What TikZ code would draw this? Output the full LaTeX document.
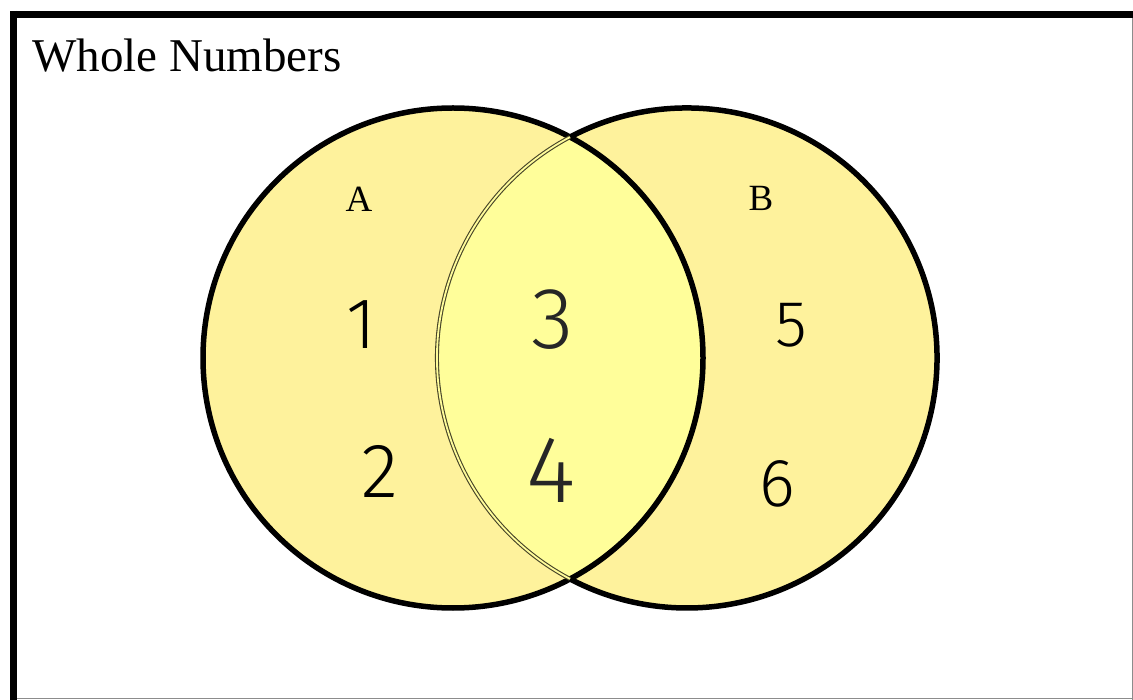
\documentclass[tikz,border=0pt]{standalone}
\usepackage{fontspec}
\setmainfont{Liberation Serif}
\newfontfamily\handfont{Fira Sans Light}
\definecolor{outeryellow}{RGB}{254,242,156}
\definecolor{inneryellow}{RGB}{255,254,154}
\definecolor{dotline}{RGB}{70,68,40}
\definecolor{framegray}{RGB}{140,140,140}
\tikzset{
  setlabel/.style={font=\fontsize{37}{37}\selectfont, inner sep=0pt, anchor=center},
  digit/.style={font=\handfont, inner sep=0pt, anchor=center},
  outline/.style={draw=black, line width=5.5pt},
  innerarc/.style={draw=dotline, line width=1.1pt, double=inneryellow!80!outeryellow, double distance=1.8pt}
}
\begin{document}
\begin{tikzpicture}[x=1pt,y=-1pt]
\useasboundingbox (0,0) rectangle (1133,700);
\fill[white] (0,0) rectangle (1133,700);
% frame
\draw[line width=7pt] (10,14.5) -- (1133,14.5);
\draw[line width=7pt] (13.5,11) -- (13.5,700);
\draw[framegray, line width=1.5pt] (1132.3,18) -- (1132.3,700);
\draw[framegray, line width=1.5pt] (17,698.6) -- (1133,698.6);
% title
\node[font=\fontsize{47}{47}\selectfont, inner sep=0pt, anchor=base west] (title) at (32,72) {Whole Numbers};
% circles
\fill[outeryellow] (453,358) circle (250);
\fill[outeryellow] (687,358) circle (250);
\begin{scope}
  \clip (453,358) circle (250);
  \fill[inneryellow] (687,358) circle (250);
\end{scope}
\draw[outline] (453,358) circle (250);
\draw[outline] (687,358) ++(-117.9:250) arc (-117.9:117.9:250);
\draw[innerarc] (687,358) ++(117.9:250) arc (117.9:242.1:250);
% labels
\node[setlabel] (labelA) at (359,199) {A};
\node[setlabel] (labelB) at (761,198) {B};
% digits
\node[digit, font=\handfont\fontsize{72}{72}\selectfont] (n1) at (361,325) {1};
\node[digit, font=\handfont\fontsize{77}{77}\selectfont] (n2) at (380,471) {2};
\node[digit, font=\handfont\fontsize{87}{87}\selectfont, text=black!85] (n3) at (553,320) {3};
\node[digit, font=\handfont\fontsize{95}{95}\selectfont, text=black!85] (n4) at (551,470) {4};
\node[digit, font=\handfont\fontsize{65}{65}\selectfont] (n5) at (791,325) {5};
\node[digit, font=\handfont\fontsize{68}{68}\selectfont] (n6) at (777,484) {6};
\end{tikzpicture}
\end{document}
